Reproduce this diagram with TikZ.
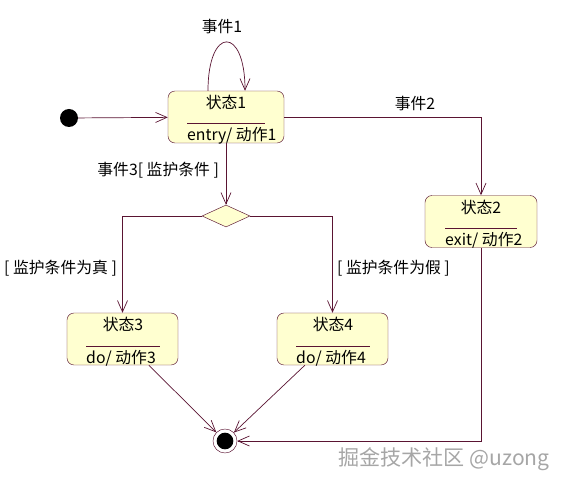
\documentclass[tikz,border=0pt]{standalone}
\usepackage{fontspec}
\setmainfont{Noto Sans CJK SC}
\usetikzlibrary{arrows.meta,shapes.geometric}
\definecolor{linec}{RGB}{90,20,50}
\definecolor{boxc}{RGB}{255,255,208}
\begin{document}
\begin{tikzpicture}[x=0.03cm,y=-0.03cm,
    font=\fontsize{13.5}{16}\selectfont,
    statebox/.style={draw=linec,fill=boxc,rounded corners=6pt,minimum width=3.36cm,minimum height=1.56cm,inner sep=0pt},
    trans/.style={draw=linec,line width=0.6pt,-{Straight Barb[length=3.4mm,width=3mm]}}]
    \useasboundingbox (0,0) rectangle (567,487);

    % start and end
    \node[circle,fill=black,minimum size=0.54cm,inner sep=0pt] (init) at (69,118) {};
    \node[circle,draw=linec,minimum size=0.72cm,inner sep=0pt] (final) at (225,441) {};
    \fill[black] (final.center) circle [radius=0.25cm];

    % states
    \node[statebox,minimum width=3.48cm] (s1) at (226,117) {};
    \node (s1name) at (226,102) {状态1};
    \draw[linec] (187,123) -- (265,123);
    \node[anchor=west,inner sep=0pt] (s1do) at (187,135.5) {entry/ 动作1};

    \node[statebox] (s2) at (481,221.5) {};
    \node (s2name) at (481,207) {状态2};
    \draw[linec] (445,228) -- (517,228);
    \node[anchor=west,inner sep=0pt] (s2do) at (445,240.5) {exit/ 动作2};

    \node[statebox,minimum width=3.33cm] (s3) at (122.5,339) {};
    \node (s3name) at (123,324) {状态3};
    \draw[linec] (86,346) -- (160,346);
    \node[anchor=west,inner sep=0pt] (s3do) at (86,358.5) {do/ 动作3};

    \node[statebox,minimum width=3.33cm] (s4) at (332.5,339) {};
    \node (s4name) at (333,324) {状态4};
    \draw[linec] (296,346) -- (370,346);
    \node[anchor=west,inner sep=0pt] (s4do) at (296,358.5) {do/ 动作4};

    \node[diamond,aspect=2,draw=linec,fill=boxc,minimum width=1.44cm,minimum height=0.66cm,inner sep=0pt] (choice) at (226,216) {};

    % transitions
    \draw[trans] (init) -- (s1);
    \draw[trans] ([xshift=-0.54cm]s1.north) .. controls +(0,-65) and +(0,-65) .. ([xshift=0.57cm]s1.north);
    \node (e1) at (222,27) {事件1};

    \draw[trans] (s1.east) -| (s2.north);
    \node (e2) at (415,104) {事件2};

    \draw[trans] (s1.south) -- (choice.north);
    \node[anchor=east] (e3) at (223,170) {事件3[ 监护条件 ]};

    \draw[trans] (choice.west) -| (s3.north);
    \node[anchor=east] (g1) at (121,268) {[ 监护条件为真 ]};
    \draw[trans] (choice.east) -| (s4.north);
    \node[anchor=west] (g2) at (333,268) {[ 监护条件为假 ]};

    \draw[trans] (s3) -- (final);
    \draw[trans] (s4) -- (final);
    \draw[trans] (s2.south) |- (final.east);

    \node[text=gray!70] (mark) at (444,459) {\fontsize{18}{20}\selectfont 掘金技术社区 @uzong};
\end{tikzpicture}
\end{document}
